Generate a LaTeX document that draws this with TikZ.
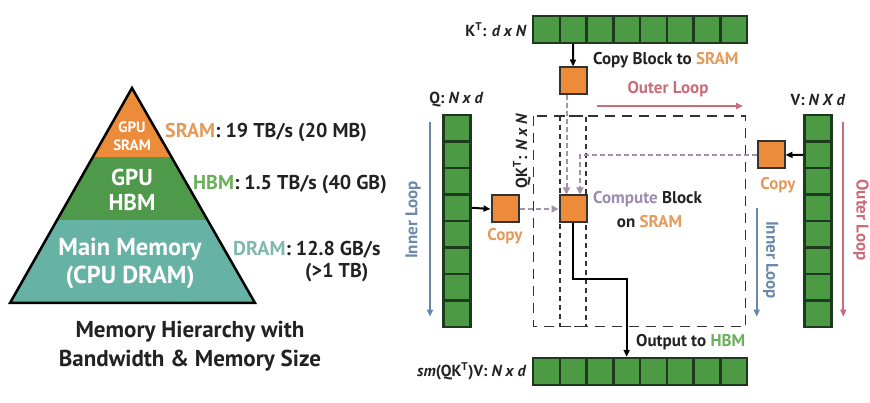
\documentclass[tikz,border=0pt]{standalone}
\usepackage{fontspec}
\setmainfont{PT Sans}
\usetikzlibrary{arrows.meta}
\definecolor{orng}{HTML}{EC8B3A}
\definecolor{grn}{HTML}{4E9A4A}
\definecolor{teal2}{HTML}{66B2A4}
\definecolor{cellgrn}{HTML}{4C9A44}
\definecolor{celledge}{HTML}{1E3A1E}
\definecolor{txtorng}{HTML}{E49A5A}
\definecolor{txtgrn}{HTML}{6BAF5A}
\definecolor{txtteal}{HTML}{80B8AE}
\definecolor{bluegray}{HTML}{6A88A8}
\definecolor{redloop}{HTML}{C96B78}
\definecolor{mauve}{HTML}{A293A8}
\definecolor{mauvetxt}{HTML}{9B8BB0}
\definecolor{ink}{HTML}{222222}
\tikzset{
  cell/.style={draw=celledge, fill=cellgrn, line width=2.5pt, minimum width=26.75pt, minimum height=26.75pt, inner sep=0pt},
  obox/.style={draw=black!80, fill=orng, line width=2pt, minimum size=27pt, inner sep=0pt},
  lbl/.style={font=\bfseries\fontsize{17}{20}\selectfont, text=ink, inner sep=0pt},
  mlbl/.style={font=\bfseries\fontsize{16}{19}\selectfont, text=ink, inner sep=0pt},
  blk/.style={line width=2pt, -{Triangle[length=7pt,width=6pt]}},
  mdash/.style={mauve, line width=2pt, dash pattern=on 5pt off 3pt, -{Triangle[length=7pt,width=7pt]}},
  looparrow/.style={line width=2pt, -{Triangle[length=7pt,width=6pt]}},
  pyrtxt/.style={text=white, font=\bfseries, inner sep=0pt},
  reltxt/.style={font=\bfseries\fontsize{20}{24}\selectfont, text=ink, inner sep=0pt, anchor=west}
}
\begin{document}
\begin{tikzpicture}[x=1pt,y=-1pt]
\useasboundingbox (0,0) rectangle (870,403);
% ---------- pyramid ----------
\coordinate (apex) at (132,88);
\coordinate (bl) at (10,303);
\coordinate (br) at (255,303);
\begin{scope}
\clip (apex) -- (bl) -- (br) -- cycle;
\fill[orng] (0,80) rectangle (300,156.7);
\fill[grn] (0,156.7) rectangle (300,220);
\fill[teal2] (0,220) rectangle (300,310);
\end{scope}
\draw[line width=2.5pt, line join=miter] (apex) -- (bl) -- (br) -- cycle;
\node[pyrtxt, font=\bfseries\fontsize{15}{16}\selectfont] (g1) at (132,127) {GPU};
\node[pyrtxt, font=\bfseries\fontsize{15}{16}\selectfont] (g2) at (132,145) {SRAM};
\node[pyrtxt, font=\bfseries\fontsize{23}{26}\selectfont] (h1) at (132,177) {GPU};
\node[pyrtxt, font=\bfseries\fontsize{23}{26}\selectfont] (h2) at (132,202) {HBM};
\node[pyrtxt, font=\bfseries\fontsize{24.5}{28}\selectfont] (m1) at (130,249) {Main Memory};
\node[pyrtxt, font=\bfseries\fontsize{24.5}{28}\selectfont] (m2) at (130,277) {(CPU DRAM)};
\node[reltxt] (r1) at (165,133) {\textcolor{txtorng}{SRAM}: 19 TB/s (20 MB)};
\node[reltxt] (r2) at (193,185) {\textcolor{txtgrn}{HBM}: 1.5 TB/s (40 GB)};
\node[reltxt] (r3) at (233,250) {\textcolor{txtteal}{DRAM}: 12.8 GB/s};
\node[reltxt] (r4) at (305,273) {(>1 TB)};
\node[font=\bfseries\fontsize{23}{28.5}\selectfont, text=ink, align=center, inner sep=0pt] (cap) at (190,346) {Memory Hierarchy with\\Bandwidth \& Memory Size};
% ---------- matrices ----------
\foreach \i in {1,...,8} {
  \node[cell] (k\i) at ({533+26.75*(\i-0.5)},29.5) {};
  \node[cell] (o\i) at ({533+26.75*(\i-0.5)},371.5) {};
  \node[cell] (q\i) at (457,{115+26.5*(\i-0.5)}) {};
  \node[cell] (v\i) at (818,{115+26.5*(\i-0.5)}) {};
}
% dashed QK^T region
\draw[black!80, line width=1.5pt, dash pattern=on 10pt off 7pt] (533.3,116) rectangle (745.7,326.7);
\draw[black!80, line width=1.5pt, dash pattern=on 5pt off 4pt] (560,116) rectangle (586,326.7);
% orange blocks
\node[obox] (kb) at (573,81) {};
\node[obox] (vb) at (771,155) {};
\node[obox] (qb) at (505,209) {};
\node[obox] (cb) at (573,209) {};
% black arrows
\draw[blk] (k2.south) -- (kb.north);
\draw[blk] (v2.west) -- (vb.east);
\draw[blk] (q4.east) -- (qb.west);
\coordinate (turn) at (573,279);
\draw[blk] (cb.south) -- (turn) -| (o4.north);
% mauve dashed arrows
\draw[mdash] ([xshift=-6.5pt]kb.south) -- ([xshift=-6.5pt]cb.north);
\coordinate (vturn) at (580,155);
\draw[mdash] (vb.west) -- (vturn) -- ([xshift=7pt]cb.north);
\draw[mdash] (qb.east) -- (cb.west);
% loop arrows
\coordinate (ol1) at (596.7,106); \coordinate (ol2) at (743,106);
\draw[looparrow, redloop] (ol1) -- (ol2);
\coordinate (il1) at (430,121.7); \coordinate (il2) at (430,316.7);
\draw[looparrow, bluegray] (il1) -- (il2);
\coordinate (ir1) at (756.7,208.3); \coordinate (ir2) at (756.7,316.7);
\draw[looparrow, bluegray] (ir1) -- (ir2);
\coordinate (or1) at (843.3,121.7); \coordinate (or2) at (843.3,316.7);
\draw[looparrow, redloop] (or1) -- (or2);
% labels
\node[mlbl, anchor=east] (klbl) at (527,30) {K\textsuperscript{T}: \textit{d x N}};
\node[lbl, anchor=west] (copyk) at (593,60) {Copy Block to \textcolor{txtorng}{SRAM}};
\node[lbl, text=redloop] (olt) at (668,89) {Outer Loop};
\node[mlbl] (qlbl) at (456.5,100) {Q: \textit{N x d}};
\node[mlbl] (vlbl) at (818,100) {V: \textit{N X d}};
\node[mlbl, rotate=90] (qklbl) at (521.7,151) {QK\textsuperscript{T}: \textit{N x N}};
\node[lbl, rotate=90, text=bluegray] (ilt) at (413,220) {Inner Loop};
\node[lbl, rotate=-90, text=bluegray] (irt) at (770.7,260) {Inner Loop};
\node[lbl, rotate=-90, text=redloop] (ort) at (861,220) {Outer Loop};
\node[lbl, text=txtorng] (cv) at (778,185) {Copy};
\node[lbl, text=txtorng] (cq) at (505,236) {Copy};
\node[lbl, anchor=west] (comp) at (593,199) {\textcolor{mauvetxt}{Compute} Block};
\node[lbl, anchor=west] (onsram) at (616.7,221.7) {on \textcolor{txtorng}{SRAM}};
\node[lbl, anchor=west] (outl) at (636,342.3) {Output to \textcolor{txtgrn}{HBM}};
\node[mlbl, anchor=east] (smlbl) at (526.7,371.7) {\textit{sm}(QK\textsuperscript{T})V: \textit{N x d}};
\end{tikzpicture}
\end{document}
